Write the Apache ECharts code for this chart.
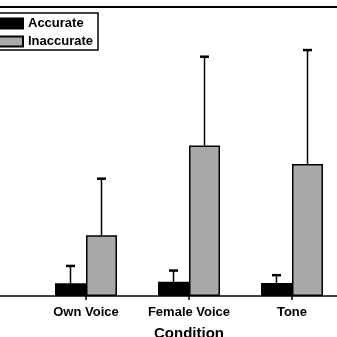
<!DOCTYPE html>
<html>
<head>
<meta charset="utf-8">
<script src="https://cdn.jsdelivr.net/npm/echarts@6/dist/echarts.min.js"></script>
<style>
html,body{margin:0;padding:0;background:#fff;}
#c{width:337px;height:337px;}
</style>
</head>
<body>
<div id="c"></div>
<script>
var categories = ['Own Voice', 'Female Voice', 'Tone'];
var accurate = [4.4, 4.9, 4.5];
var accurateErr = [6.0, 3.9, 2.7];
var inaccurate = [21.0, 52.1, 45.7];
var inaccurateErr = [19.6, 30.7, 39.4];

var FONT = '"Liberation Sans", Arial, sans-serif';

function errData(vals, errs) {
  return vals.map(function (v, i) { return [i, v, v + errs[i]]; });
}
function errRender(offset, capW) {
  return function (params, api) {
    var base = api.coord([api.value(0), api.value(1)]);
    var top = api.coord([api.value(0), api.value(2)]);
    var x = base[0] + offset;
    return {
      type: 'group',
      children: [
        { type: 'line', shape: { x1: x, y1: base[1], x2: x, y2: top[1] },
          style: { stroke: '#000', lineWidth: 1.5 } },
        { type: 'line', shape: { x1: x - capW / 2, y1: top[1], x2: x + capW / 2, y2: top[1] },
          style: { stroke: '#000', lineWidth: 2.5 } }
      ]
    };
  };
}

var chart = echarts.init(document.getElementById('c'));
chart.setOption({
  animation: false,
  backgroundColor: '#fff',
  grid: { left: 34.5, top: 7, width: 309, height: 289, containLabel: false, outerBoundsMode: 'none' },
  legend: {
    data: ['Accurate', 'Inaccurate'],
    orient: 'vertical',
    left: -13, top: 13,
    padding: [3, 5, 1, 4],
    itemGap: 3,
    itemWidth: 31, itemHeight: 10,
    icon: 'rect',
    borderColor: '#000', borderWidth: 1.5,
    backgroundColor: '#fff',
    textStyle: { fontFamily: FONT, fontWeight: 'bold', fontSize: 13, color: '#000', lineHeight: 15 }
  },
  xAxis: {
    type: 'category',
    data: categories,
    axisLine: { show: false },
    axisTick: { show: true, alignWithLabel: true, length: 4, lineStyle: { color: '#000', width: 1.5 } },
    axisLabel: { fontFamily: FONT, fontWeight: 'bold', fontSize: 13, color: '#000', margin: 10, interval: 0, hideOverlap: false },
    name: 'Condition',
    nameLocation: 'middle',
    nameGap: 30,
    nameTextStyle: { fontFamily: FONT, fontWeight: 'bold', fontSize: 15, color: '#000' }
  },
  yAxis: { type: 'value', min: 0, max: 100, show: false, splitLine: { show: false } },
  graphic: [
    { type: 'line', shape: { x1: 0, y1: 296, x2: 337, y2: 296 }, style: { stroke: '#000', lineWidth: 1.5 }, z: 10 },
    { type: 'line', shape: { x1: 0, y1: 7, x2: 337, y2: 7 }, style: { stroke: '#000', lineWidth: 2 }, z: 10 }
  ],
  series: [
    { name: 'Accurate', type: 'bar', data: accurate, barWidth: 31, barGap: '0%',
      itemStyle: { color: '#000', borderColor: '#000', borderWidth: 1.5 } },
    { name: 'Inaccurate', type: 'bar', data: inaccurate, barWidth: 31, barGap: '0%',
      itemStyle: { color: '#a9a9a9', borderColor: '#000', borderWidth: 1.5 } },
    { name: 'accErr', type: 'custom', data: errData(accurate, accurateErr),
      renderItem: errRender(-15.5, 9), encode: { x: 0, y: [1, 2] }, z: 5 },
    { name: 'inaccErr', type: 'custom', data: errData(inaccurate, inaccurateErr),
      renderItem: errRender(15.5, 9), encode: { x: 0, y: [1, 2] }, z: 5 }
  ]
});
</script>
</body>
</html>
